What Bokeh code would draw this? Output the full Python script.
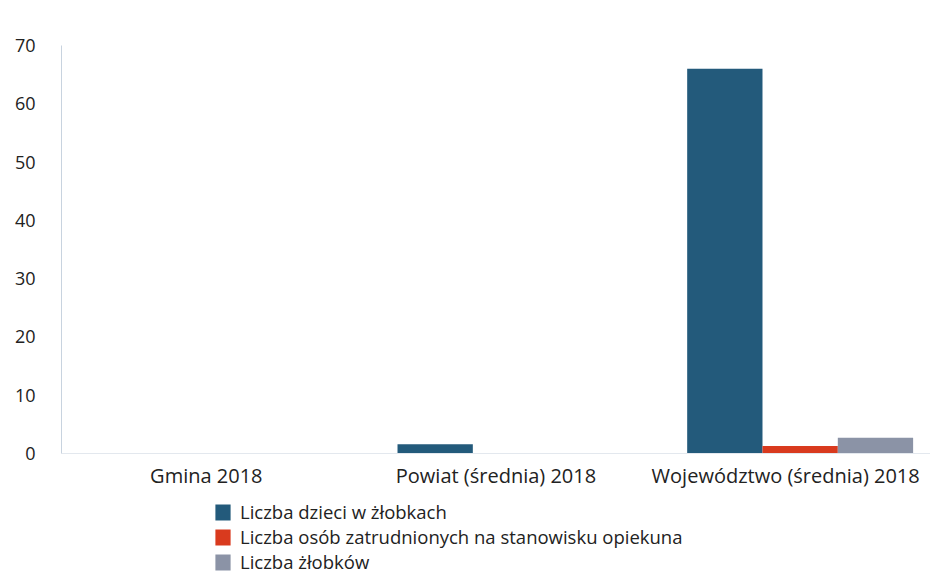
from bokeh.plotting import figure
from bokeh.layouts import column
from bokeh.models import ColumnDataSource, Legend, LegendItem
from bokeh.transform import dodge
from bokeh.embed import file_html
from bokeh.resources import INLINE

categories = ["Gmina 2018", "Powiat (średnia) 2018", "Województwo (średnia) 2018"]
series_names = ["Liczba dzieci w żłobkach",
                "Liczba osób zatrudnionych na stanowisku opiekuna",
                "Liczba żłobków"]
dzieci = [0, 1.6, 66]
opiekunowie = [0, 0, 1.3]
zlobki = [0, 0, 2.7]
y_ticks = [0, 10, 20, 30, 40, 50, 60, 70]

colors = ["#235a7b", "#d93a1e", "#8b93a6"]

src = ColumnDataSource(dict(cat=categories, a=dzieci, b=opiekunowie, c=zlobki))

p = figure(x_range=categories, y_range=(0, 70), width=930, height=500,
           output_backend="svg", toolbar_location=None,
           min_border_left=61, min_border_top=45, min_border_right=0,
           min_border_bottom=47)
p.outline_line_color = None
p.background_fill_color = "white"
p.border_fill_color = "white"

r1 = p.vbar(x=dodge("cat", -0.21, range=p.x_range), top="a", width=0.26, source=src,
            fill_color=colors[0], line_color=None)
r2 = p.vbar(x=dodge("cat", 0.05, range=p.x_range), top="b", width=0.26, source=src,
            fill_color=colors[1], line_color=None)
r3 = p.vbar(x=dodge("cat", 0.31, range=p.x_range), top="c", width=0.26, source=src,
            fill_color=colors[2], line_color=None)

p.xgrid.grid_line_color = None
p.ygrid.grid_line_color = None

p.yaxis.ticker = y_ticks
p.yaxis.axis_line_color = "#c8d3df"
p.yaxis.major_tick_line_color = None
p.yaxis.minor_tick_line_color = None
p.yaxis.major_label_text_font = "Open Sans"
p.yaxis.major_label_text_font_size = "18px"
p.yaxis.major_label_text_color = "#222222"
p.yaxis.major_label_standoff = 20

p.xaxis.axis_line_color = "#e3e8ee"
p.xaxis.major_tick_line_color = None
p.xaxis.minor_tick_line_color = None
p.xaxis.major_label_text_font = "Open Sans"
p.xaxis.major_label_text_font_size = "20px"
p.xaxis.major_label_text_color = "#222222"
p.xaxis.major_label_standoff = 2

# legend strip below the chart
lg = figure(width=930, height=74, x_range=(0, 1), y_range=(0, 1),
            output_backend="svg", toolbar_location=None,
            x_axis_location=None, y_axis_location=None,
            min_border_left=61, min_border_right=0, min_border_top=0, min_border_bottom=0)
lg.outline_line_color = None
lg.xgrid.grid_line_color = None
lg.ygrid.grid_line_color = None
swatch = ColumnDataSource(dict(x=[0.5], top=[0]))
l1 = lg.vbar(x="x", top="top", width=0.01, source=swatch, fill_color=colors[0], line_color=None)
l2 = lg.vbar(x="x", top="top", width=0.01, source=swatch, fill_color=colors[1], line_color=None)
l3 = lg.vbar(x="x", top="top", width=0.01, source=swatch, fill_color=colors[2], line_color=None)

legend = Legend(items=[LegendItem(label=series_names[0], renderers=[l1]),
                       LegendItem(label=series_names[1], renderers=[l2]),
                       LegendItem(label=series_names[2], renderers=[l3])],
                location=(152, 0), orientation="vertical",
                label_text_font="Open Sans", label_text_font_size="18.5px",
                label_text_color="#222222", glyph_width=19, glyph_height=20,
                label_height=23, spacing=0, padding=0, margin=0,
                border_line_color=None, background_fill_alpha=0,
                label_standoff=8)
lg.add_layout(legend, "center")

layout = column(p, lg, spacing=0)
open("out.html", "w").write(file_html(layout, INLINE))
